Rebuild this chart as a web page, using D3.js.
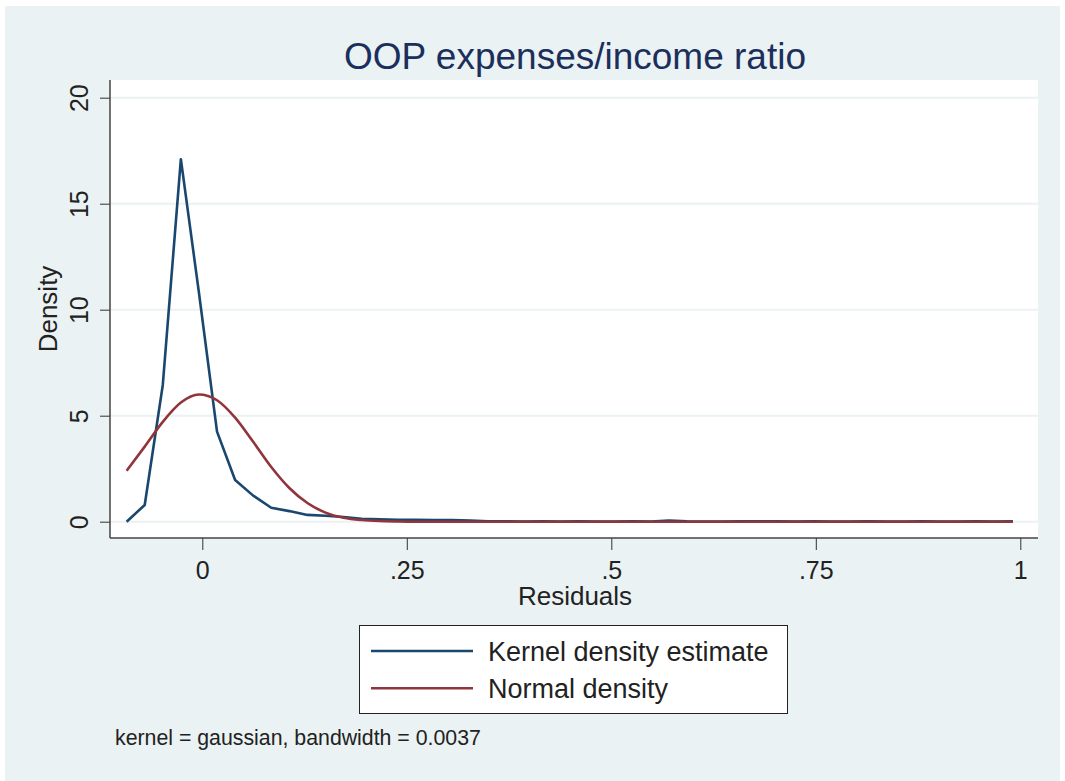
<!DOCTYPE html>
<html>
<head>
<meta charset="utf-8">
<script src="https://cdn.jsdelivr.net/npm/d3@7"></script>
<style>
  body { margin: 0; background: #fff; }
  text { font-family: "Liberation Sans", Arial, Helvetica, sans-serif; }
</style>
</head>
<body>
<div id="chart"></div>
<script>
// values
var chartTitle = "OOP expenses/income ratio";
var xTickValues = [0, 0.25, 0.5, 0.75, 1];
var xTickLabels = ["0", ".25", ".5", ".75", "1"];
var yTickValues = [0, 5, 10, 15, 20];
var seriesNames = ["Kernel density estimate", "Normal density"];
var noteText = "kernel = gaussian, bandwidth = 0.0037";

// evaluation points (50 of them, Stata default)
var residuals = [-0.0925, -0.0704, -0.0483, -0.0262, -0.0041, 0.0180, 0.0401, 0.0622, 0.0843, 0.1064,
    0.1285, 0.1506, 0.1727, 0.1948, 0.2169, 0.2390, 0.2611, 0.2832, 0.3053, 0.3274,
    0.3495, 0.3716, 0.3937, 0.4158, 0.4379, 0.4600, 0.4821, 0.5042, 0.5263, 0.5484,
    0.5705, 0.5926, 0.6147, 0.6368, 0.6589, 0.6810, 0.7031, 0.7252, 0.7473, 0.7694,
    0.7915, 0.8136, 0.8357, 0.8578, 0.8799, 0.9020, 0.9241, 0.9462, 0.9683, 0.9909];

var kernelDensity = [0.00, 0.79, 6.45, 17.10, 10.80, 4.25, 1.97, 1.23, 0.66, 0.50,
    0.32, 0.28, 0.22, 0.14, 0.11, 0.09, 0.09, 0.08, 0.08, 0.05,
    0.02, 0.02, 0.01, 0.02, 0.01, 0.02, 0.01, 0.01, 0.02, 0.01,
    0.05, 0.02, 0.01, 0.01, 0.02, 0.02, 0.02, 0.01, 0.02, 0.01,
    0.01, 0.02, 0.01, 0.01, 0.02, 0.01, 0.01, 0.02, 0.01, 0.02];

var normalDensity = [2.40, 3.54, 4.71, 5.62, 6.00, 5.73, 4.91, 3.77, 2.58, 1.59,
    0.88, 0.43, 0.19, 0.08, 0.03, 0.01, 0.00, 0.00, 0.00, 0.00,
    0.00, 0.00, 0.00, 0.00, 0.00, 0.00, 0.00, 0.00, 0.00, 0.00,
    0.00, 0.00, 0.00, 0.00, 0.00, 0.00, 0.00, 0.00, 0.00, 0.00,
    0.00, 0.00, 0.00, 0.00, 0.00, 0.00, 0.00, 0.00, 0.00, 0.00];

var colors = ["#1a476f", "#90353b"];

var width = 1065, height = 781;
var plot = { left: 110, right: 1038, top: 80, bottom: 538 };

var svg = d3.select('#chart').append('svg')
    .attr('width', width)
    .attr('height', height);

// outer background
svg.append('rect')
    .attr('x', 5).attr('y', 6)
    .attr('width', 1055).attr('height', 775)
    .attr('fill', '#eaf2f3');

// plot region
svg.append('rect')
    .attr('x', plot.left).attr('y', plot.top)
    .attr('width', plot.right - plot.left).attr('height', plot.bottom - plot.top)
    .attr('fill', '#fff');

var x = d3.scaleLinear().domain([0, 1]).range([202.3, 1020.3]);
var y = d3.scaleLinear().domain([0, 20]).range([521.7, 97.7]);

// grid lines
svg.append('g').selectAll('line')
    .data(yTickValues)
    .join('line')
    .attr('x1', plot.left).attr('x2', plot.right)
    .attr('y1', d => y(d)).attr('y2', d => y(d))
    .attr('stroke', '#eaf2f3')
    .attr('stroke-width', 2);

// axes
var yAxis = svg.append('g')
    .attr('transform', 'translate(' + plot.left + ',0)')
    .call(d3.axisLeft(y).tickValues(yTickValues).tickSize(10).tickSizeOuter(0));
yAxis.select('.domain').remove();
yAxis.selectAll('.tick line').attr('stroke', '#333');
yAxis.selectAll('.tick text')
    .attr('x', 0).attr('y', 0).attr('dy', 0)
    .attr('text-anchor', 'middle')
    .attr('transform', 'translate(-22,0) rotate(-90)')
    .attr('font-size', 25)
    .attr('fill', '#222');

var xAxis = svg.append('g')
    .attr('transform', 'translate(0,' + plot.bottom + ')')
    .call(d3.axisBottom(x).tickValues(xTickValues).tickSize(12)
        .tickFormat((d, i) => xTickLabels[i]));
xAxis.select('.domain').remove();
xAxis.selectAll('.tick line').attr('stroke', '#333');
xAxis.selectAll('.tick text')
    .attr('y', 41).attr('dy', 0)
    .attr('font-size', 25)
    .attr('fill', '#222');

svg.append('line')
    .attr('x1', plot.left).attr('x2', plot.left)
    .attr('y1', plot.top).attr('y2', plot.bottom)
    .attr('stroke', '#444').attr('stroke-width', 1.5);
svg.append('line')
    .attr('x1', plot.left).attr('x2', plot.right)
    .attr('y1', plot.bottom).attr('y2', plot.bottom)
    .attr('stroke', '#444').attr('stroke-width', 1.5);

// curves: kernel estimate drawn as straight segments, normal smoothed
var kernelLine = d3.line()
    .x((d, i) => x(residuals[i]))
    .y(d => y(d));
var normalLine = d3.line()
    .x((d, i) => x(residuals[i]))
    .y(d => y(d))
    .curve(d3.curveMonotoneX);

svg.append('path')
    .datum(kernelDensity)
    .attr('d', kernelLine)
    .attr('fill', 'none')
    .attr('stroke', colors[0])
    .attr('stroke-width', 2.6)
    .attr('stroke-linejoin', 'round');

svg.append('path')
    .datum(normalDensity)
    .attr('d', normalLine)
    .attr('fill', 'none')
    .attr('stroke', colors[1])
    .attr('stroke-width', 2.6)
    .attr('stroke-linejoin', 'round');

// titles
svg.append('text')
    .attr('x', 575).attr('y', 69)
    .attr('text-anchor', 'middle')
    .attr('font-size', 37)
    .attr('fill', '#1c2f5c')
    .text(chartTitle);

svg.append('text')
    .attr('x', 575).attr('y', 605)
    .attr('text-anchor', 'middle')
    .attr('font-size', 26)
    .attr('fill', '#222')
    .text('Residuals');

svg.append('text')
    .attr('transform', 'translate(57,309) rotate(-90)')
    .attr('text-anchor', 'middle')
    .attr('font-size', 26)
    .attr('fill', '#222')
    .text('Density');

// legend
var legend = svg.append('g');
legend.append('rect')
    .attr('x', 359.5).attr('y', 625.5)
    .attr('width', 428).attr('height', 88)
    .attr('fill', '#fff')
    .attr('stroke', '#222').attr('stroke-width', 1);

var rows = legend.selectAll('g.row')
    .data(seriesNames)
    .join('g')
    .attr('class', 'row')
    .attr('transform', (d, i) => 'translate(0,' + (651 + i * 37.3) + ')');
rows.append('line')
    .attr('x1', 371).attr('x2', 473)
    .attr('stroke', (d, i) => colors[i])
    .attr('stroke-width', 2.6);
rows.append('text')
    .attr('x', 488).attr('y', 10)
    .attr('font-size', 27)
    .attr('fill', '#222')
    .text(d => d);

// note
svg.append('text')
    .attr('x', 115).attr('y', 745)
    .attr('font-size', 21.3)
    .attr('fill', '#222')
    .text(noteText);
</script>
</body>
</html>
